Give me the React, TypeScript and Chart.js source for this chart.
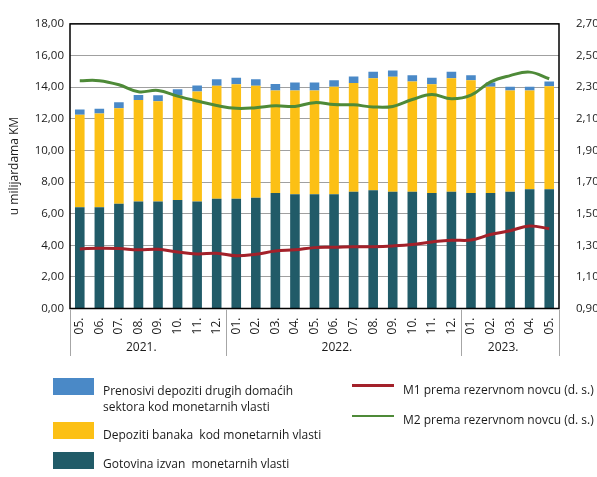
import React, { useEffect, useRef } from 'react';
import { Chart, registerables } from 'chart.js';

Chart.register(...registerables);

const months = ['05.', '06.', '07.', '08.', '09.', '10.', '11.', '12.', '01.', '02.', '03.', '04.', '05.', '06.', '07.', '08.', '09.', '10.', '11.', '12.', '01.', '02.', '03.', '04.', '05.'];
const yearLabels = ['2021.', '2022.', '2023.'];
const yearCounts = [8, 12, 5];

const gotovina = [6.40, 6.40, 6.62, 6.76, 6.76, 6.86, 6.76, 6.94, 6.94, 7.00, 7.30, 7.22, 7.22, 7.22, 7.39, 7.48, 7.39, 7.39, 7.30, 7.39, 7.30, 7.30, 7.39, 7.54, 7.54];
const depozitiBanaka = [5.86, 5.94, 6.04, 6.42, 6.34, 6.61, 6.97, 7.15, 7.25, 7.09, 6.49, 6.57, 6.57, 6.81, 6.88, 7.09, 7.26, 6.96, 6.89, 7.18, 7.13, 6.73, 6.40, 6.25, 6.51];
const prenosivi = [0.32, 0.30, 0.38, 0.32, 0.39, 0.39, 0.37, 0.41, 0.40, 0.41, 0.41, 0.50, 0.50, 0.40, 0.40, 0.40, 0.40, 0.40, 0.40, 0.40, 0.32, 0.26, 0.24, 0.24, 0.30];
const m1 = [1.277, 1.281, 1.279, 1.271, 1.275, 1.257, 1.245, 1.249, 1.233, 1.243, 1.263, 1.271, 1.285, 1.287, 1.290, 1.291, 1.296, 1.305, 1.321, 1.332, 1.333, 1.368, 1.392, 1.422, 1.404];
const m2 = [2.341, 2.341, 2.315, 2.271, 2.279, 2.243, 2.212, 2.184, 2.166, 2.170, 2.182, 2.178, 2.202, 2.190, 2.188, 2.175, 2.178, 2.222, 2.253, 2.226, 2.249, 2.333, 2.373, 2.395, 2.353];

const leftTicks = [0, 2, 4, 6, 8, 10, 12, 14, 16, 18];
const rightTicks = [0.9, 1.1, 1.3, 1.5, 1.7, 1.9, 2.1, 2.3, 2.5, 2.7];

const yTitle = 'u milijardama KM';
const legendBars = [
  { lines: ['Prenosivi depoziti drugih domaćih', 'sektora kod monetarnih vlasti'], color: '#4A89C7' },
  { lines: ['Depoziti banaka  kod monetarnih vlasti'], color: '#FCC015' },
  { lines: ['Gotovina izvan  monetarnih vlasti'], color: '#215B68' },
];
const legendLines = [
  { text: 'M1 prema rezervnom novcu (d. s.)', color: '#A3212A' },
  { text: 'M2 prema rezervnom novcu (d. s.)', color: '#4E8A38' },
];

const FONT = "'Open Sans', sans-serif";
const fmt = (v: number) => v.toFixed(2).replace('.', ',');

const decorPlugin = {
  id: 'decor',
  afterDraw(chart: any) {
    const { ctx, chartArea } = chart;
    const xs = chart.scales.x;
    ctx.save();
    ctx.strokeStyle = '#000';
    ctx.lineWidth = 1.5;
    ctx.strokeRect(chartArea.left, chartArea.top, chartArea.right - chartArea.left, chartArea.bottom - chartArea.top);
    const cat = (xs.right - xs.left) / months.length;
    let idx = 0;
    ctx.strokeStyle = '#A6A6A6';
    ctx.lineWidth = 1;
    ctx.fillStyle = '#1a1a1a';
    ctx.font = `12px ${FONT}`;
    ctx.textAlign = 'center';
    ctx.textBaseline = 'middle';
    const drawSep = (x: number) => {
      ctx.beginPath();
      ctx.moveTo(Math.round(x) + 0.5, chartArea.bottom + 1);
      ctx.lineTo(Math.round(x) + 0.5, 356);
      ctx.stroke();
    };
    drawSep(xs.left);
    yearLabels.forEach((lab, g) => {
      const start = xs.left + idx * cat;
      idx += yearCounts[g];
      const end = xs.left + idx * cat;
      drawSep(end);
      ctx.fillText(lab, (start + end) / 2 - 7, 348);
    });
    ctx.translate(15, 166);
    ctx.rotate(-Math.PI / 2);
    ctx.fillText(yTitle, 0, 0);
    ctx.restore();
  },
};

function ChartView() {
  const ref = useRef<HTMLCanvasElement>(null);
  useEffect(() => {
    if (!ref.current) return;
    const chart = new Chart(ref.current, {
      type: 'bar',
      data: {
        labels: months,
        datasets: [
          { type: 'line', label: 'M1 prema rezervnom novcu (d. s.)', data: m1, yAxisID: 'y1', borderColor: '#A3212A', borderWidth: 3, pointRadius: 0, tension: 0.4, order: 0 } as any,
          { type: 'line', label: 'M2 prema rezervnom novcu (d. s.)', data: m2, yAxisID: 'y1', borderColor: '#4E8A38', borderWidth: 3, pointRadius: 0, tension: 0.4, order: 0 } as any,
          { label: 'Gotovina izvan monetarnih vlasti', data: gotovina, backgroundColor: '#215B68', yAxisID: 'y', order: 1, barPercentage: 0.49, categoryPercentage: 1 },
          { label: 'Depoziti banaka kod monetarnih vlasti', data: depozitiBanaka, backgroundColor: '#FCC015', yAxisID: 'y', order: 1, barPercentage: 0.49, categoryPercentage: 1 },
          { label: 'Prenosivi depoziti drugih domaćih sektora kod monetarnih vlasti', data: prenosivi, backgroundColor: '#4A89C7', yAxisID: 'y', order: 1, barPercentage: 0.49, categoryPercentage: 1 },
        ],
      },
      options: {
        animation: false,
        responsive: false,
        devicePixelRatio: 1,
        layout: { padding: { top: 10, left: 0, right: 0, bottom: 0 } },
        plugins: { legend: { display: false }, tooltip: { enabled: false } },
        scales: {
          x: {
            stacked: true,
            grid: { display: false, drawTicks: false },
            border: { display: false },
            ticks: {
              autoSkip: false,
              maxRotation: 90,
              minRotation: 90,
              padding: 9,
              color: '#1a1a1a',
              font: { family: FONT, size: 12 },
            },
            afterFit: (s: any) => { s.height = 168.5; },
          },
          y: {
            stacked: true,
            position: 'left',
            min: 0,
            max: 18,
            afterBuildTicks: (s: any) => { s.ticks = leftTicks.map((v) => ({ value: v })); },
            grid: { color: '#A0A0A0', lineWidth: 1, drawTicks: false },
            border: { display: false },
            ticks: {
              padding: 6,
              color: '#1a1a1a',
              font: { family: FONT, size: 11.5 },
              callback: (v: any) => fmt(Number(v)),
            },
            afterFit: (s: any) => { s.width = 70; },
          },
          y1: {
            position: 'right',
            min: 0.9,
            max: 2.7,
            afterBuildTicks: (s: any) => { s.ticks = rightTicks.map((v) => ({ value: v })); },
            grid: { display: false, drawTicks: false },
            border: { display: false },
            ticks: {
              padding: 17,
              color: '#1a1a1a',
              font: { family: FONT, size: 11.5 },
              callback: (v: any) => fmt(Number(v)),
            },
            afterFit: (s: any) => { s.width = 38; },
          },
        },
      },
      plugins: [decorPlugin],
    });
    return () => chart.destroy();
  }, []);
  return <canvas ref={ref} width={597} height={477} style={{ position: 'absolute', left: 0, top: 0 }} />;
}

export default function App() {
  const textStyle: React.CSSProperties = {
    position: 'absolute',
    fontFamily: FONT,
    fontSize: '12px',
    color: '#1a1a1a',
    whiteSpace: 'pre',
    lineHeight: '15.7px',
  };
  const boxTops = [378, 422, 452];
  const textCenters = [391, 435, 464];
  const lineYs = [385.7, 416];
  const lineTextCenters = [390, 420];
  return (
    <div style={{ position: 'fixed', left: 0, top: 0, width: 597, height: 477, background: '#fff', overflow: 'hidden' }}>
      <ChartView />
      {legendBars.map((it, i) => (
        <React.Fragment key={'b' + i}>
          <div style={{ position: 'absolute', left: 53, top: boxTops[i], width: 41, height: 17, background: it.color }} />
          <div style={{ ...textStyle, left: 103, top: textCenters[i] - 7.85 }}>
            {it.lines.join('\n')}
          </div>
        </React.Fragment>
      ))}
      {legendLines.map((it, i) => (
        <React.Fragment key={'l' + i}>
          <div style={{ position: 'absolute', left: 352, top: lineYs[i] - 1.25, width: 42, height: 2.5, background: it.color }} />
          <div style={{ ...textStyle, left: 403, top: lineTextCenters[i] - 7.85 }}>{it.text}</div>
        </React.Fragment>
      ))}
    </div>
  );
}
